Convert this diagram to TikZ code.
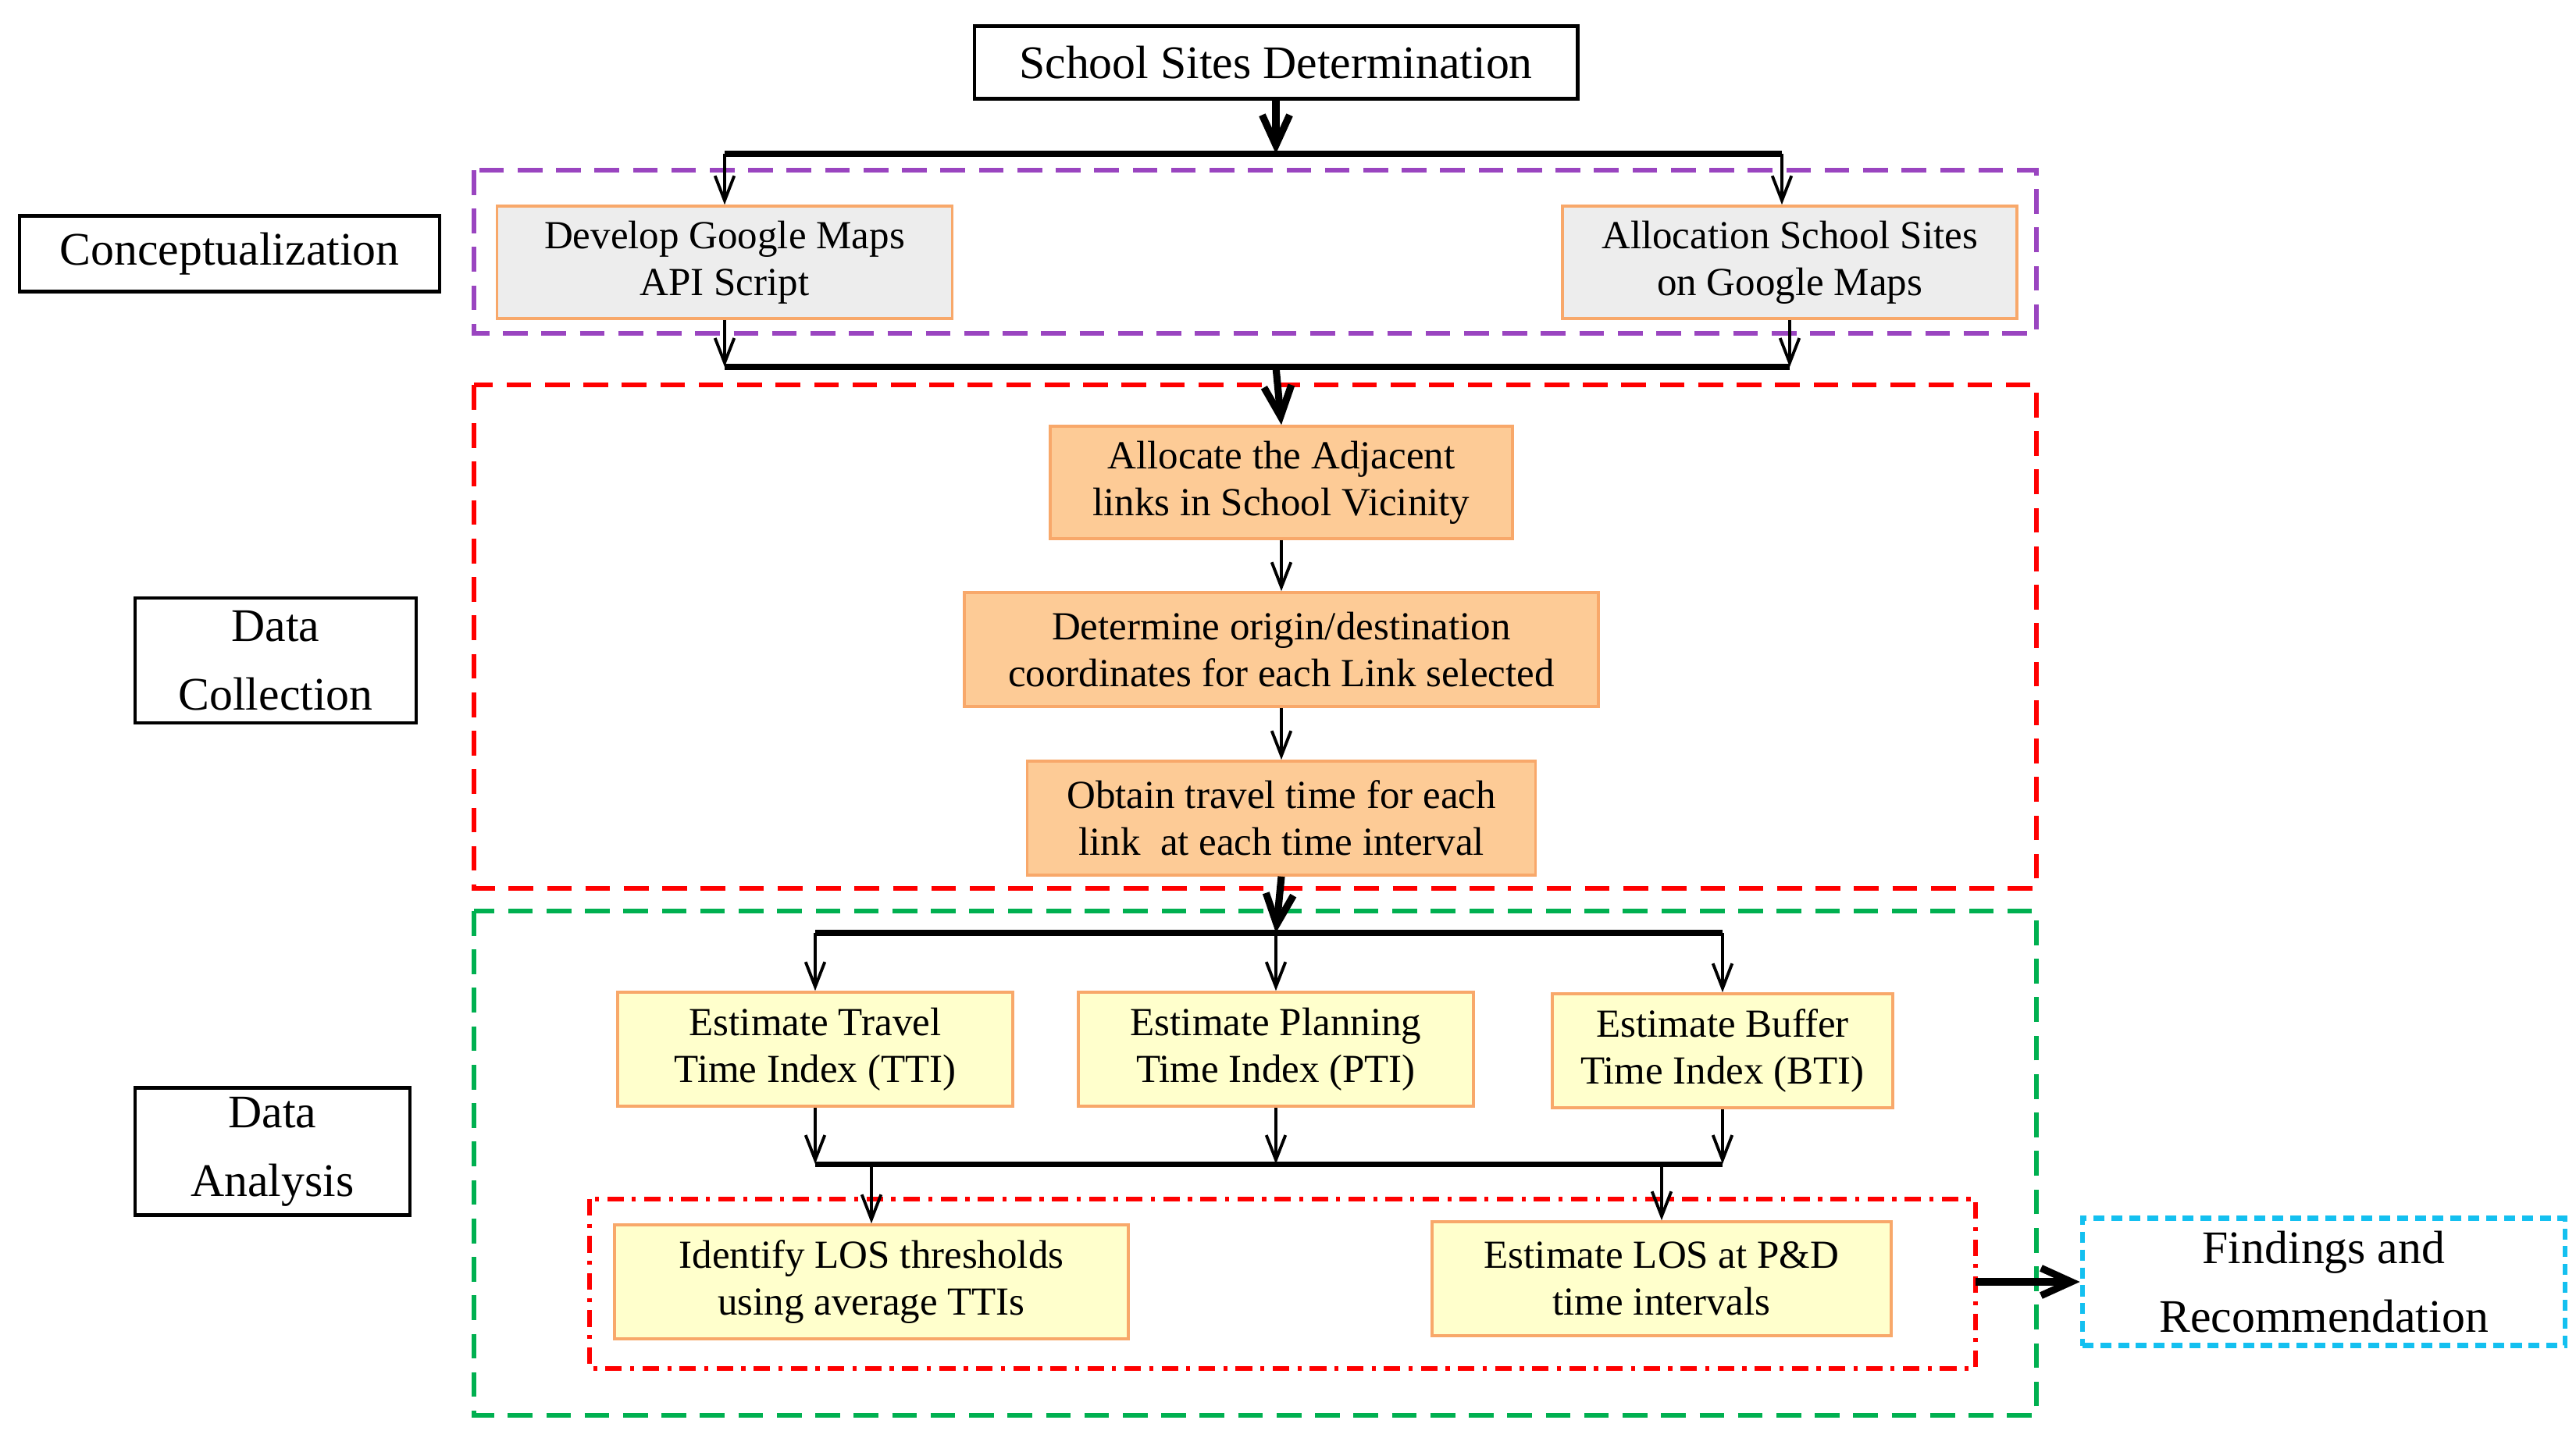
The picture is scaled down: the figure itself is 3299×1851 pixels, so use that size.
\documentclass[tikz,border=0pt]{standalone}
\usepackage{fontspec}
\setmainfont{Liberation Serif}
\usetikzlibrary{arrows.meta}
\definecolor{gbox}{HTML}{EDEDED}
\definecolor{obord}{HTML}{F8A86A}
\definecolor{ofill}{HTML}{FDCB96}
\definecolor{yfill}{HTML}{FFFFCC}
\definecolor{purp}{HTML}{9A45C0}
\definecolor{grn}{HTML}{00B050}
\definecolor{cyn}{HTML}{14C0F0}
\tikzset{
 lbl/.style={draw=black,line width=1.3pt,fill=white,align=center,font=\fontsize{17}{20}\selectfont,inner sep=0pt},
 bx/.style={draw=obord,line width=1pt,align=center,font=\fontsize{14.5}{17}\selectfont,inner sep=0pt},
 ar/.style={-{Straight Barb[length=9pt,width=7pt]},line width=1.1pt},
 tar/.style={-{Straight Barb[length=11pt,width=10pt]},line width=2.6pt},
 ln/.style={line width=2pt},
 grp/.style={line width=1.6pt,dash pattern=on 9pt off 5pt},
}
\begin{document}
\begin{tikzpicture}[x=0.01cm,y=-0.01cm]
\useasboundingbox (0,0) rectangle (3299,1851);
% groups
\draw[grp,purp] (607,218) rectangle (2608,427);
\draw[grp,red] (607,493) rectangle (2608,1138);
\draw[grp,grn] (607,1167) rectangle (2608,1813);
\draw[line width=1.6pt,red,dash pattern=on 6pt off 3pt on 1.5pt off 3pt] (755,1536) rectangle (2530,1753);
\node[draw=cyn,line width=1.8pt,dash pattern=on 4pt off 2.5pt,minimum width=6.18cm,minimum height=1.63cm,align=center,font=\fontsize{17}{25}\selectfont] (fr) at (2976,1642) {Findings and\\Recommendation};
% labels
\node[lbl,minimum width=7.72cm,minimum height=0.93cm] (ss) at (1634,80) {School Sites Determination};
\node[lbl,minimum width=5.38cm,minimum height=0.97cm] (cp) at (294,325) {Conceptualization};
\node[lbl,minimum width=3.6cm,minimum height=1.6cm,font=\fontsize{17}{25}\selectfont] (dc) at (353,846) {Data\\Collection};
\node[lbl,minimum width=3.52cm,minimum height=1.63cm,font=\fontsize{17}{25}\selectfont] (da) at (349,1475) {Data\\Analysis};
% boxes
\node[bx,fill=gbox,minimum width=5.83cm,minimum height=1.44cm] (dg) at (928,336) {Develop Google Maps\\API Script};
\node[bx,fill=gbox,minimum width=5.82cm,minimum height=1.44cm] (as) at (2292,336) {Allocation School Sites\\on Google Maps};
\node[bx,fill=ofill,minimum width=5.92cm,minimum height=1.44cm] (al) at (1641,618) {Allocate the Adjacent\\links in School Vicinity};
\node[bx,fill=ofill,minimum width=8.12cm,minimum height=1.46cm] (de) at (1641,832) {Determine origin/destination\\coordinates for each Link selected};
\node[bx,fill=ofill,minimum width=6.51cm,minimum height=1.46cm] (ob) at (1641,1048) {Obtain travel time for each\\link~ at each time interval};
\node[bx,fill=yfill,minimum width=5.06cm,minimum height=1.46cm] (tt) at (1044,1344) {Estimate Travel\\Time Index (TTI)};
\node[bx,fill=yfill,minimum width=5.06cm,minimum height=1.46cm] (pt) at (1634,1344) {Estimate Planning\\Time Index (PTI)};
\node[bx,fill=yfill,minimum width=4.36cm,minimum height=1.46cm] (bt) at (2206,1346) {Estimate Buffer\\Time Index (BTI)};
\node[bx,fill=yfill,minimum width=6.58cm,minimum height=1.46cm] (id) at (1116,1642) {Identify LOS thresholds\\using average TTIs};
\node[bx,fill=yfill,minimum width=5.88cm,minimum height=1.46cm] (el) at (2128,1638) {Estimate LOS at P\&D\\time intervals};
% coordinates
\coordinate (b1) at (1634,197); \coordinate (b1l) at (928,197); \coordinate (b1r) at (2282,197);
\coordinate (b2) at (1634,470); \coordinate (b2l) at (928,470); \coordinate (b2r) at (2292,470);
\coordinate (b3) at (1634,1195); \coordinate (b3l) at (1044,1195); \coordinate (b3r) at (2206,1195);
\coordinate (b4) at (1634,1491); \coordinate (b4l) at (1044,1491); \coordinate (b4r) at (2206,1491);
\coordinate (rdr) at (2530,1642);
% connectors
\draw[tar] (ss.south) -- (b1);
\draw[ln] (b1l) -- (b1r);
\draw[ar] (b1l) -- (dg.north);
\draw[ar] (b1r) -- (b1r|-as.north);
\draw[ar] (dg.south) -- (b2l);
\draw[ar] (as.south) -- (b2r);
\draw[ln] (b2l) -- (b2r);
\draw[tar] (b2) -- (al.north);
\draw[ar] (al) -- (de);
\draw[ar] (de) -- (ob);
\draw[tar] (ob.south) -- (b3);
\draw[ln] (b3l) -- (b3r);
\draw[ar] (b3l) -- (tt.north);
\draw[ar] (b3) -- (pt.north);
\draw[ar] (b3r) -- (bt.north);
\draw[ar] (tt.south) -- (b4l);
\draw[ar] (pt.south) -- (b4);
\draw[ar] (bt.south) -- (b4r);
\draw[ln] (b4l) -- (b4r);
\draw[ar] (b4l-|id.north) -- (id.north);
\draw[ar] (b4r-|el.north) -- (el.north);
\draw[tar] (rdr) -- (fr.west);
\end{tikzpicture}
\end{document}
